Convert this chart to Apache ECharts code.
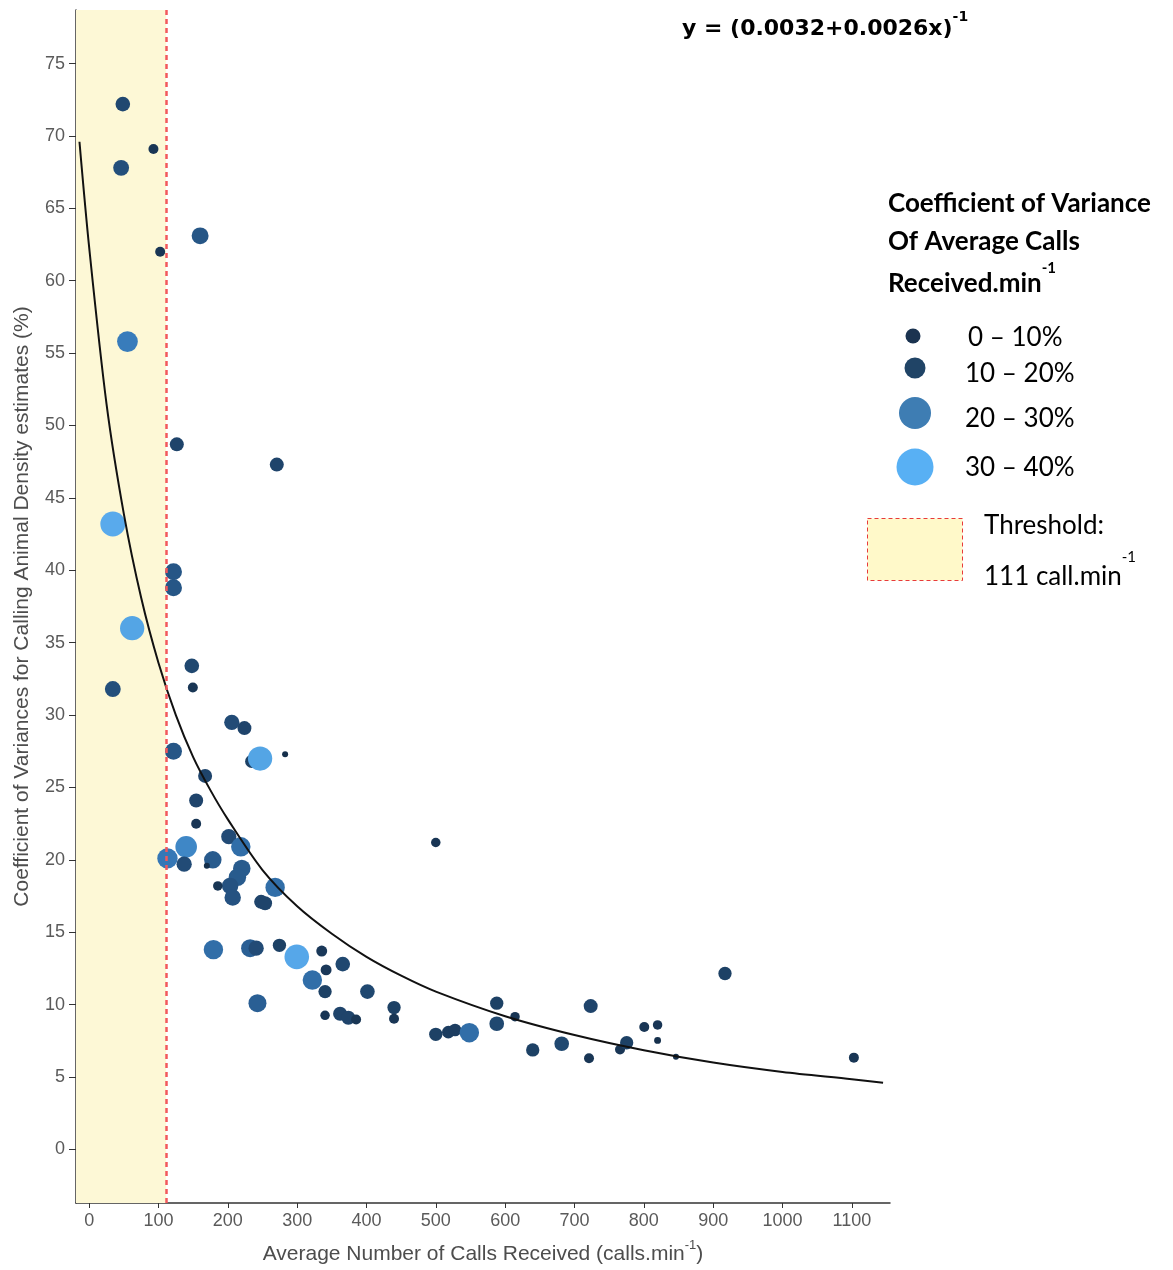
<!DOCTYPE html>
<html>
<head>
<meta charset="utf-8">
<script src="https://cdn.jsdelivr.net/npm/echarts@6/dist/echarts.min.js"></script>
<style>
  html, body { margin: 0; padding: 0; background: #ffffff; }
  #chart { width: 1173px; height: 1270px; }
</style>
</head>
<body>
<div id="chart"></div>
<script>
// ---------------- data ----------------
const xTickValues = [0, 100, 200, 300, 400, 500, 600, 700, 800, 900, 1000, 1100];
const yTickValues = [0, 5, 10, 15, 20, 25, 30, 35, 40, 45, 50, 55, 60, 65, 70, 75];

// average number of calls received (calls.min-1)
const callsPerMin = [
  48.5, 92.7, 46.1, 160, 102.4, 55.2, 126.4, 270.6, 34.1, 121.6,
  121.6, 62, 148, 149.5, 34.1, 205.7, 223.9, 234.5, 246.5, 282.6,
  121.6, 167.2, 154.3, 154.3, 112.9, 139.9, 137, 178.3, 169.7, 201.4,
  218.7, 220.1, 213.8, 203.3, 185.5, 207, 268.2, 248, 253.7, 179.2,
  232.1, 240.8, 274.4, 299.4, 335.4, 365.7, 341.7, 321.9, 340.2, 401.3,
  242.7, 340.2, 361.9, 373.8, 385, 439.7, 439.7, 499.9, 917, 587.8,
  614.2, 723.3, 587.8, 499.9, 518, 527.7, 548.3, 639.7, 681.5, 720.9,
  765.6, 775.2, 800.6, 819.8, 819.8, 846.3, 1102.9
];
// coefficient of variance of calling animal density estimates (%)
const densityCV = [
  72.2, 69.1, 67.8, 63.1, 62.0, 55.8, 48.7, 47.3, 43.2, 39.9,
  38.8, 36.0, 33.4, 31.9, 31.8, 29.5, 29.1, 26.8, 27.0, 27.3,
  27.5, 25.8, 24.1, 22.5, 20.1, 20.9, 19.7, 20.0, 19.6, 21.6,
  20.9, 19.4, 18.8, 18.2, 18.2, 17.4, 18.1, 17.1, 17.0, 13.8,
  13.9, 13.9, 14.1, 13.3, 13.7, 12.8, 12.4, 11.7, 10.9, 10.9,
  10.1, 9.26, 9.37, 9.1, 8.98, 9.8, 9.03, 21.2, 12.15, 10.1,
  9.17, 9.9, 8.68, 7.95, 8.1, 8.25, 8.06, 6.87, 7.3, 6.3,
  6.9, 7.37, 8.46, 8.6, 7.53, 6.4, 6.34
];
// coefficient of variance of average calls received (%)
const callsCV = [
  10, 4, 12, 14, 4, 22, 9, 9, 33, 14,
  14, 31, 10, 4, 12, 11, 9, 8, 31, 1,
  14, 9, 9, 4, 21, 24, 11, 15, 1, 11,
  19, 15, 15, 13, 3.5, 13, 19, 9, 9, 19,
  16, 11, 8, 32, 5, 10, 5, 19, 8, 10,
  16, 3.5, 9, 9, 4, 8, 4, 3.5, 8, 8,
  3.5, 9, 10, 8, 7, 7, 19, 8, 10, 4,
  4, 8, 4, 3.5, 1.5, 1, 4
];

// fitted curve
const fitX = [-14, 0, 25, 50, 75, 100, 125, 150, 175, 200, 250, 300, 350, 400, 450, 500, 600, 700, 800, 900, 1000, 1100, 1145];
const fitY = [69.6, 62.3, 51.5, 43.9, 38.1, 33.6, 30.0, 27.1, 24.8, 22.8, 19.3, 16.8, 14.9, 13.3, 12.0, 10.9, 9.2, 7.9, 6.85, 6.0, 5.35, 4.85, 4.6];

const thresholdCalls = 111;
const xMin = -19, xMax = 1155, yMin = -3.7, yMax = 78.7;
const legendBins = ['0 \u2013 10%', '10 \u2013 20%', '20 \u2013 30%', '30 \u2013 40%'];

// ---------------- build ----------------
const points = callsPerMin.map((x, i) => [x, densityCV[i], callsCV[i]]);
const fitLine = fitX.map((x, i) => [x, fitY[i]]);

const axisFont = '"Liberation Sans", Arial, sans-serif';
const legFont = 'Lato, "Open Sans", sans-serif';
const eqFont = '"DejaVu Sans", sans-serif';

const chart = echarts.init(document.getElementById('chart'), null, { renderer: 'canvas' });

function supText(base, sup, baseSize, supSize, family, weight, lh) {
  return {
    text: '{b|' + base + '}{s|' + sup + '}',
    rich: {
      b: { fontSize: baseSize, fontFamily: family, fontWeight: weight, fill: '#000', color: '#000', lineHeight: lh, verticalAlign: 'bottom' },
      s: { fontSize: supSize, fontFamily: family, fontWeight: weight, fill: '#000', color: '#000', lineHeight: lh, verticalAlign: 'top' }
    }
  };
}

const option = {
  animation: false,
  backgroundColor: '#ffffff',
  grid: { left: 76, top: 10, right: 283, bottom: 64, containLabel: false },
  xAxis: {
    type: 'value', min: xMin, max: xMax,
    splitLine: { show: false },
    axisLine: { show: true, onZero: false, lineStyle: { color: '#333333', width: 1.5 } },
    axisTick: { show: true, length: 5, customValues: xTickValues, lineStyle: { color: '#333333' } },
    axisLabel: { customValues: xTickValues, color: '#5a5a5a', fontSize: 18, fontFamily: axisFont, margin: 9,
                 formatter: (v) => String(v) },
    name: '{b|Average Number of Calls Received (calls.min}{s|-1}{b|)}',
    nameLocation: 'middle', nameGap: 36,
    nameTextStyle: {
      rich: {
        b: { fontSize: 21, color: '#4d4d4d', fontFamily: axisFont, lineHeight: 26, verticalAlign: 'bottom' },
        s: { fontSize: 13, color: '#4d4d4d', fontFamily: axisFont, lineHeight: 26, verticalAlign: 'top' }
      }
    }
  },
  yAxis: {
    type: 'value', min: yMin, max: yMax,
    splitLine: { show: false },
    axisLine: { show: true, onZero: false, lineStyle: { color: '#333333', width: 1.5 } },
    axisTick: { show: true, length: 7, customValues: yTickValues, lineStyle: { color: '#333333' } },
    axisLabel: { customValues: yTickValues, color: '#5a5a5a', fontSize: 18, fontFamily: axisFont, margin: 11,
                 padding: [7, 0, 0, 0], formatter: (v) => String(v) },
    name: 'Coefficient of Variances for Calling Animal Density estimates (%)',
    nameLocation: 'middle', nameGap: 43,
    nameTextStyle: { fontSize: 21, color: '#4d4d4d', fontFamily: axisFont }
  },
  visualMap: {
    show: false, type: 'continuous', seriesIndex: 1, dimension: 2,
    min: 0, max: 35,
    inRange: { color: ['#142D47', '#1C3D60', '#265686', '#3577B6', '#4C9CDC', '#5EB0F2'] }
  },
  series: [
    {
      name: 'threshold', type: 'line', data: [], z: 1, silent: true,
      markArea: {
        silent: true,
        itemStyle: { color: '#FDF8D6' },
        data: [[{ xAxis: xMin }, { xAxis: thresholdCalls }]]
      },
      markLine: {
        silent: true, symbol: ['none', 'none'],
        label: { show: false },
        lineStyle: { color: '#F2585C', width: 2.5, type: [5, 4] },
        data: [{ xAxis: thresholdCalls }]
      }
    },
    {
      name: 'points', type: 'scatter', z: 3,
      data: points,
      symbol: 'circle',
      symbolSize: (v) => 2 + 4 * Math.sqrt(v[2]),
      itemStyle: { opacity: 1 }
    },
    {
      name: 'fit', type: 'line', z: 4, silent: true,
      data: fitLine, smooth: 0.3, showSymbol: false, symbol: 'none',
      lineStyle: { color: '#111111', width: 2 }
    }
  ],
  graphic: [
    // equation
    { type: 'text', left: 682, top: 10, style: supText('y = (0.0032+0.0026x)', '-1', 22, 14, eqFont, 'bold', 30) },
    // legend title
    { type: 'text', left: 888, top: 191, style: { text: 'Coefficient of Variance', font: 'bold 26px ' + legFont, fill: '#000' } },
    { type: 'text', left: 888, top: 229, style: { text: 'Of Average Calls', font: 'bold 26px ' + legFont, fill: '#000' } },
    { type: 'text', left: 888, top: 261, style: supText('Received.min', '-1', 26, 15, legFont, 'bold', 36) },
    // legend circles
    { type: 'circle', shape: { cx: 913, cy: 336, r: 7.5 }, style: { fill: '#1B3350' } },
    { type: 'circle', shape: { cx: 915, cy: 368, r: 10.5 }, style: { fill: '#204466' } },
    { type: 'circle', shape: { cx: 915, cy: 413, r: 16 }, style: { fill: '#3E7DB3' } },
    { type: 'circle', shape: { cx: 915, cy: 467, r: 18.5 }, style: { fill: '#58B0F4' } },
    // legend labels
    { type: 'text', left: 968, top: 325, style: { text: legendBins[0], font: '26px ' + legFont, fill: '#000' } },
    { type: 'text', left: 965, top: 361, style: { text: legendBins[1], font: '26px ' + legFont, fill: '#000' } },
    { type: 'text', left: 965, top: 406, style: { text: legendBins[2], font: '26px ' + legFont, fill: '#000' } },
    { type: 'text', left: 965, top: 455, style: { text: legendBins[3], font: '26px ' + legFont, fill: '#000' } },
    // threshold legend
    { type: 'rect', shape: { x: 867.5, y: 518.5, width: 95, height: 62 }, style: { fill: '#FFF9C9', stroke: '#E83A3A', lineWidth: 1, lineDash: [4, 3] } },
    { type: 'text', left: 984, top: 513, style: { text: 'Threshold:', font: '26px ' + legFont, fill: '#000' } },
    { type: 'text', left: 984, top: 550, style: supText('111 call.min', '-1', 26, 15, legFont, 'normal', 40) }
  ]
};
chart.setOption(option);
</script>
</body>
</html>
